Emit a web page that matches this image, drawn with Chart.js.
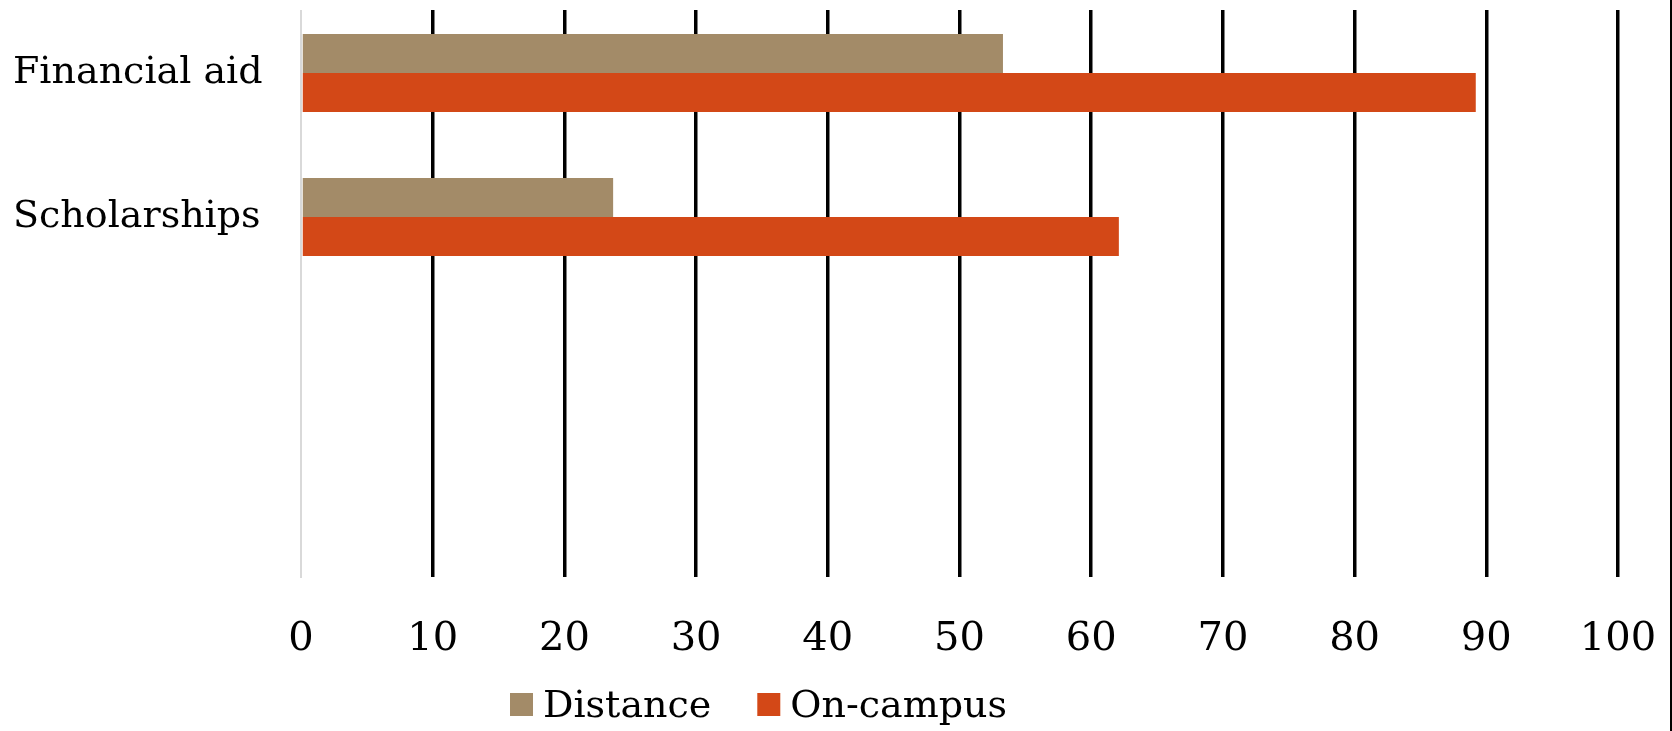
<!DOCTYPE html>
<html>
<head>
<meta charset="utf-8">
<script src="https://cdn.jsdelivr.net/npm/chart.js@4/dist/chart.umd.min.js"></script>
<style>
  html, body { margin: 0; padding: 0; background: #fff; overflow: hidden; }
  #wrap { position: relative; width: 1672px; height: 731px; }
  #edge { position: absolute; right: 0; top: 0; width: 2px; height: 731px; background: #000; }
</style>
</head>
<body>
<div id="wrap">
  <canvas id="chart" width="1672" height="731"></canvas>
  <div id="edge"></div>
</div>
<script>
// Aid categories (the two blank rows keep the lower part of the plot empty)
const categories = ['Financial aid', 'Scholarships', '', ''];
// Percent of students receiving each type of aid
const distance = [53.3, 23.7, null, null];
const onCampus = [89.2, 62.1, null, null];
// Horizontal axis ticks
const xTicks = [0, 10, 20, 30, 40, 50, 60, 70, 80, 90, 100];

const FONT = "'DejaVu Serif', serif";

// Gridlines begin slightly below the top of the plot area
const gridInset = {
  id: 'gridInset',
  beforeDatasetsDraw(chart, args, opts) {
    const { ctx, chartArea } = chart;
    ctx.save();
    ctx.fillStyle = '#ffffff';
    ctx.fillRect(chartArea.left - 3, 0, chartArea.right - chartArea.left + 8, opts.inset);
    ctx.restore();
  }
};

// Square-swatch legend under the axis
const swatchLegend = {
  id: 'swatchLegend',
  afterDraw(chart, args, opts) {
    const { ctx } = chart;
    ctx.save();
    ctx.font = opts.fontSize + 'px ' + FONT;
    ctx.textBaseline = 'alphabetic';
    ctx.textAlign = 'left';
    let x = opts.x;
    chart.data.datasets.forEach(ds => {
      ctx.fillStyle = ds.backgroundColor;
      ctx.fillRect(x, opts.boxTop, opts.box, opts.box);
      x += opts.box + opts.gap;
      ctx.fillStyle = '#000';
      ctx.fillText(ds.label, x, opts.baseline);
      x += ctx.measureText(ds.label).width + opts.spacing;
    });
    ctx.restore();
  }
};

new Chart(document.getElementById('chart'), {
  type: 'bar',
  data: {
    labels: categories,
    datasets: [
      { label: 'Distance', data: distance, backgroundColor: '#A38B68' },
      { label: 'On-campus', data: onCampus, backgroundColor: '#D34817' }
    ]
  },
  options: {
    indexAxis: 'y',
    responsive: false,
    animation: false,
    layout: { padding: { left: 13, right: 54, top: 1, bottom: 0 } },
    datasets: { bar: { categoryPercentage: 0.54, barPercentage: 1 } },
    plugins: {
      legend: { display: false },
      tooltip: { enabled: false },
      gridInset: { inset: 10 },
      swatchLegend: { x: 510, boxTop: 693, box: 23, gap: 10, spacing: 46, baseline: 717, fontSize: 38 }
    },
    scales: {
      x: {
        min: 0,
        max: 100,
        afterBuildTicks(scale) { scale.ticks = xTicks.map(v => ({ value: v })); },
        afterFit(scale) {
          scale.height = 154;
          scale.paddingLeft = 0;
          scale.paddingRight = 0;
        },
        grid: {
          drawTicks: false,
          lineWidth: 3.5,
          color: c => (c.tick && c.tick.value === 0) ? 'rgba(0,0,0,0)' : '#000'
        },
        border: { display: false },
        ticks: {
          padding: 39,
          color: '#000',
          font: { family: FONT, size: 40 }
        }
      },
      y: {
        afterFit(scale) {
          scale.width = 288;
          scale.paddingTop = 0;
          scale.paddingBottom = 0;
        },
        grid: { display: false },
        border: { display: true, color: '#d9d9d9', width: 2 },
        ticks: {
          crossAlign: 'far',
          color: '#000',
          font: { family: FONT, size: 38 }
        }
      }
    }
  },
  plugins: [gridInset, swatchLegend]
});
</script>
</body>
</html>
